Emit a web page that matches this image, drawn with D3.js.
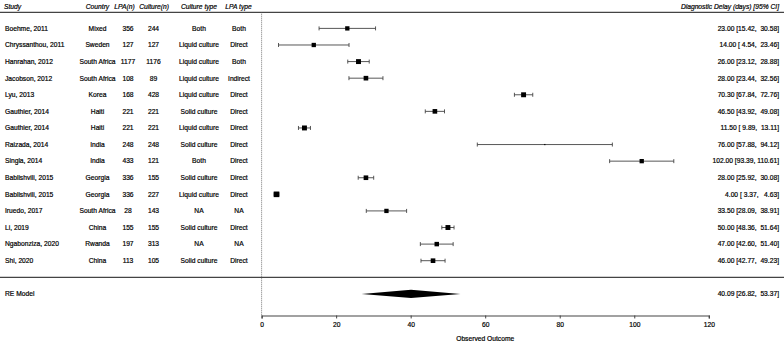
<!DOCTYPE html>
<html>
<head>
<meta charset="utf-8">
<script src="https://cdn.jsdelivr.net/npm/d3@7"></script>
<style>
  body { margin: 0; background: #fff; }
  svg text { font-family: "Liberation Sans", Arial, sans-serif; font-size: 6.7px; fill: #000; stroke: #000; stroke-width: 0.2px; }
  .hdr { font-style: italic; }
</style>
</head>
<body>
<div id="chart"></div>
<script>
const studies = [
    "Boehme, 2011", "Chryssanthou, 2011", "Hanrahan, 2012", "Jacobson, 2012", "Lyu, 2013",
    "Gauthier, 2014", "Gauthier, 2014", "Raizada, 2014", "Singla, 2014", "Bablishvili, 2015",
    "Bablishvili, 2015", "Iruedo, 2017", "Li, 2019", "Ngabonziza, 2020", "Shi, 2020"
];
const countries = [
    "Mixed", "Sweden", "South Africa", "South Africa", "Korea", "Haiti", "Haiti", "India",
    "India", "Georgia", "Georgia", "South Africa", "China", "Rwanda", "China"
];
const lpaN = [356, 127, 1177, 108, 168, 221, 221, 248, 433, 336, 336, 28, 155, 197, 113];
const cultureN = [244, 127, 1176, 89, 428, 221, 221, 248, 121, 155, 227, 143, 155, 313, 105];
const cultureType = [
    "Both", "Liquid culture", "Liquid culture", "Liquid culture", "Liquid culture",
    "Solid culture", "Liquid culture", "Solid culture", "Both", "Solid culture",
    "Liquid culture", "NA", "Solid culture", "NA", "Solid culture"
];
const lpaType = [
    "Both", "Direct", "Both", "Indirect", "Direct", "Direct", "Direct", "Direct",
    "Direct", "Direct", "Direct", "NA", "Direct", "NA", "Direct"
];
const estimate = [23.00, 14.00, 26.00, 28.00, 70.30, 46.50, 11.50, 76.00, 102.00, 28.00, 4.00, 33.50, 50.00, 47.00, 46.00];
const ciLower = [15.42, 4.54, 23.12, 23.44, 67.84, 43.92, 9.89, 57.88, 93.39, 25.92, 3.37, 28.09, 48.36, 42.60, 42.77];
const ciUpper = [30.58, 23.46, 28.88, 32.56, 72.76, 49.08, 13.11, 94.12, 110.61, 30.08, 4.63, 38.91, 51.64, 51.40, 49.23];
// relative weights
const weights = [6.5, 6.5, 8.5, 7.5, 8.5, 7.5, 8.5, 0.5, 6.5, 7.5, 11, 6.5, 8.5, 7, 7.5];

const reModel = { est: 40.09, lo: 26.82, hi: 53.37 };
const xTicks = [0, 20, 40, 60, 80, 100, 120];

const width = 784;
const height = 343;

const svg = d3.select("#chart")
    .append("svg")
    .attr("width", width)
    .attr("height", height);

const x = d3.scaleLinear().domain([0, 120]).range([261.6, 708.8]);
const y = d3.scaleLinear().domain([0, 14]).range([28.4, 260.7]);
const size = d3.scaleSqrt().domain([0, 11]).range([0, 5.6]);

const lineColor = "#444";
const fmt = d3.format(".2f");
const pad = (v, w) => fmt(v).padStart(w, " ");

// header
const headerY = 8.5;
const headers = [
    { t: "Study", x: 4, a: "start" },
    { t: "Country", x: 97.5, a: "middle" },
    { t: "LPA(n)", x: 124.5, a: "middle" },
    { t: "Culture(n)", x: 154, a: "middle" },
    { t: "Culture type", x: 199, a: "middle" },
    { t: "LPA type", x: 238.5, a: "middle" },
    { t: "Diagnostic Delay (days) [95% CI]", x: 779, a: "end" }
];
svg.selectAll(".hdr")
    .data(headers)
    .enter()
    .append("text")
    .attr("class", "hdr")
    .attr("x", d => d.x)
    .attr("y", headerY)
    .attr("text-anchor", d => d.a)
    .text(d => d.t);

// horizontal rules
svg.append("line")
    .attr("x1", 0).attr("x2", width)
    .attr("y1", y(-0.97)).attr("y2", y(-0.97))
    .attr("stroke", lineColor).attr("stroke-width", 1.2);
svg.append("line")
    .attr("x1", 0).attr("x2", width)
    .attr("y1", y(15)).attr("y2", y(15))
    .attr("stroke", lineColor).attr("stroke-width", 1.2);

// reference line at zero
const axisY = y(17.3);
svg.append("line")
    .attr("x1", x(0)).attr("x2", x(0))
    .attr("y1", y(-0.97)).attr("y2", axisY)
    .attr("stroke", "#555").attr("stroke-width", 0.8)
    .attr("stroke-dasharray", "1,1");

// table columns
const rows = studies.map((s, i) => ({
    study: s, country: countries[i], lpa: lpaN[i], cul: cultureN[i],
    ctype: cultureType[i], ltype: lpaType[i],
    est: estimate[i], lo: ciLower[i], hi: ciUpper[i], w: weights[i], i
}));

const cols = [
    { key: "study", x: 5, a: "start" },
    { key: "country", x: 97.5, a: "middle" },
    { key: "lpa", x: 128, a: "middle" },
    { key: "cul", x: 153.5, a: "middle" },
    { key: "ctype", x: 199, a: "middle" },
    { key: "ltype", x: 239, a: "middle" }
];
cols.forEach(c => {
    svg.selectAll(".col-" + c.key)
        .data(rows)
        .enter()
        .append("text")
        .attr("class", "col-" + c.key)
        .attr("x", c.x)
        .attr("y", d => y(d.i))
        .attr("dy", "0.35em")
        .attr("text-anchor", c.a)
        .text(d => d[c.key]);
});

// estimates text on the right
svg.selectAll(".est-text")
    .data(rows)
    .enter()
    .append("text")
    .attr("class", "est-text")
    .attr("x", 779)
    .attr("y", d => y(d.i))
    .attr("dy", "0.35em")
    .attr("text-anchor", "end")
    .style("white-space", "pre")
    .text(d => `${fmt(d.est)} [${pad(d.lo, 5)}, ${pad(d.hi, 6)}]`);

svg.append("text")
    .attr("x", 5)
    .attr("y", y(16))
    .attr("dy", "0.35em")
    .text("RE Model");
svg.append("text")
    .attr("x", 779)
    .attr("y", y(16))
    .attr("dy", "0.35em")
    .attr("text-anchor", "end")
    .style("white-space", "pre")
    .text(`${fmt(reModel.est)} [${pad(reModel.lo, 5)}, ${pad(reModel.hi, 6)}]`);

// CI lines and whiskers
const ci = svg.selectAll(".ci")
    .data(rows)
    .enter()
    .append("g")
    .attr("class", "ci");
ci.append("line")
    .attr("x1", d => x(d.lo)).attr("x2", d => x(d.hi))
    .attr("y1", d => y(d.i)).attr("y2", d => y(d.i))
    .attr("stroke", lineColor).attr("stroke-width", 0.9);
ci.append("line")
    .attr("x1", d => x(d.lo)).attr("x2", d => x(d.lo))
    .attr("y1", d => y(d.i) - 2).attr("y2", d => y(d.i) + 2)
    .attr("stroke", lineColor).attr("stroke-width", 0.9);
ci.append("line")
    .attr("x1", d => x(d.hi)).attr("x2", d => x(d.hi))
    .attr("y1", d => y(d.i) - 2).attr("y2", d => y(d.i) + 2)
    .attr("stroke", lineColor).attr("stroke-width", 0.9);

// weighted squares
svg.selectAll(".sq")
    .data(rows)
    .enter()
    .append("rect")
    .attr("class", "sq")
    .attr("x", d => x(d.est) - size(d.w) / 2)
    .attr("y", d => y(d.i) - size(d.w) / 2)
    .attr("width", d => size(d.w))
    .attr("height", d => size(d.w))
    .attr("fill", "#000");

// summary diamond
const dy = y(16);
svg.append("polygon")
    .attr("points", [
        [x(reModel.lo), dy], [x(reModel.est), dy - 4.2],
        [x(reModel.hi), dy], [x(reModel.est), dy + 4.2]
    ].map(p => p.join(",")).join(" "))
    .attr("fill", "#000");

// x axis
const axis = svg.append("g")
    .attr("transform", `translate(0,${axisY})`)
    .call(d3.axisBottom(x).tickValues(xTicks).tickSize(3).tickPadding(4).tickFormat(d3.format("d")));
axis.select(".domain").attr("stroke", lineColor).attr("stroke-width", 1.1);
axis.selectAll(".tick line").attr("stroke", lineColor);
axis.selectAll(".tick text")
    .style("font-family", "'Liberation Sans', Arial, sans-serif")
    .style("font-size", "6.7px")
    .attr("fill", "#000")
    .attr("stroke", "#000")
    .attr("stroke-width", 0.2);

svg.append("text")
    .attr("x", x(60))
    .attr("y", 339)
    .attr("dy", "0.35em")
    .attr("text-anchor", "middle")
    .text("Observed Outcome");
</script>
</body>
</html>
